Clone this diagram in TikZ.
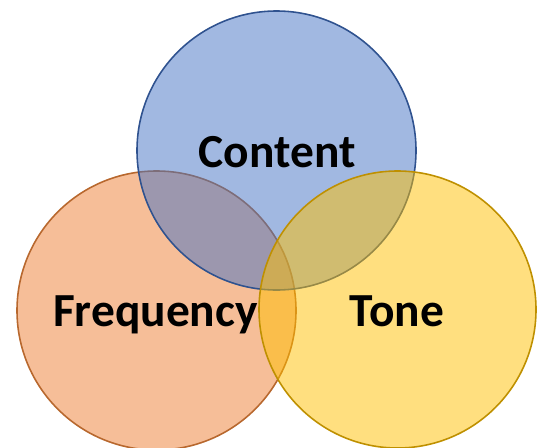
\documentclass[tikz,border=0pt]{standalone}
\usepackage{fontspec}
\setmainfont{Carlito}
\definecolor{freqfill}{HTML}{ED7D31}
\definecolor{freqline}{HTML}{B8682E}
\definecolor{contfill}{HTML}{4472C4}
\definecolor{contline}{HTML}{2F528F}
\definecolor{tonefill}{HTML}{FFC000}
\definecolor{toneline}{HTML}{BF9000}
\tikzset{
  venn/.style={line width=0.9pt, fill opacity=0.5},
  lbl/.style={font=\fontsize{27}{32}\selectfont\bfseries, anchor=base}
}

\begin{document}
\begin{tikzpicture}
\useasboundingbox (0,0) rectangle (10.74,8.94);
% circle centres
\coordinate (f) at (3.13,2.73);
\coordinate (c) at (5.53,5.93);
\coordinate (t) at (7.95,2.75);
\draw[venn, draw=freqline, fill=freqfill] (f) circle[radius=2.79];
\draw[venn, draw=contline, fill=contfill] (c) circle[radius=2.79];
\draw[venn, draw=toneline, fill=tonefill] (t) circle[radius=2.77];
% labels
\node[lbl] (cont) at (5.54,5.60) {Content};
\node[lbl] (freq) at (3.11,2.42) {Frequency};
\node[lbl] (tone) at (7.94,2.42) {Tone};
\end{tikzpicture}
\end{document}
